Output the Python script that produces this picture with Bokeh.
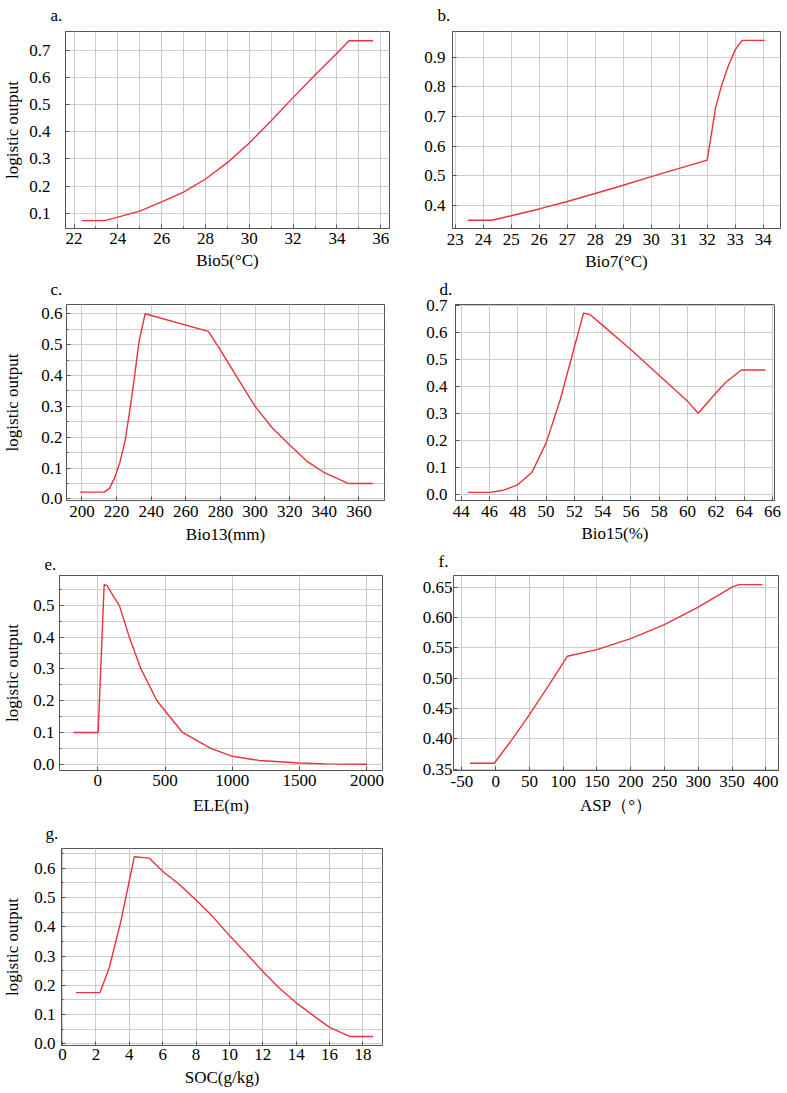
from bokeh.plotting import figure
from bokeh.layouts import column, row
from bokeh.models import Range1d, FixedTicker, PrintfTickFormatter
from bokeh.embed import file_html
from bokeh.resources import INLINE

# ---------------- data ----------------
bio5_x = [22.35, 23.4, 24, 25, 26, 27, 28, 29, 30, 31, 32, 33, 34, 34.55, 35.65]
bio5_y = [0.073, 0.073, 0.086, 0.108, 0.142, 0.178, 0.226, 0.286, 0.358, 0.44, 0.525, 0.608, 0.688, 0.734, 0.734]

bio7_x = [23.45, 24.3, 25, 26, 27, 28, 29, 30, 31, 32.0, 32.15, 32.3, 32.5, 32.75, 33.0, 33.25, 34.05]
bio7_y = [0.35, 0.35, 0.365, 0.388, 0.413, 0.44, 0.468, 0.497, 0.525, 0.553, 0.64, 0.73, 0.80, 0.87, 0.925, 0.957, 0.957]

bio13_x = [199, 213, 216, 219, 222, 225, 228, 230, 233, 236.5, 273, 280, 290, 300, 310, 320, 330, 340, 354, 368]
bio13_y = [0.022, 0.022, 0.035, 0.07, 0.12, 0.19, 0.30, 0.38, 0.51, 0.60, 0.543, 0.482, 0.391, 0.30, 0.23, 0.175, 0.122, 0.085, 0.05, 0.05]

bio15_x = [44.5, 46, 47, 48, 49, 50, 51, 52, 52.65, 53.1, 54, 56, 58, 60, 60.75, 62, 62.7, 63.8, 65.5]
bio15_y = [0.008, 0.008, 0.016, 0.036, 0.082, 0.19, 0.35, 0.545, 0.67, 0.665, 0.625, 0.535, 0.44, 0.345, 0.30, 0.375, 0.415, 0.46, 0.46]

ele_x = [-180, 3, 48, 70, 100, 160, 235, 321, 440, 630, 840, 1000, 1200, 1500, 1700, 2000]
ele_y = [0.1, 0.1, 0.565, 0.562, 0.54, 0.5, 0.4, 0.3, 0.2, 0.1, 0.05, 0.025, 0.012, 0.004, 0.001, 0.0]

asp_x = [-38, -2, 25, 50, 75, 100, 106, 150, 200, 250, 300, 350, 360, 395]
asp_y = [0.36, 0.36, 0.40, 0.44, 0.482, 0.525, 0.536, 0.547, 0.565, 0.588, 0.617, 0.650, 0.654, 0.654]

soc_x = [0.8, 2.25, 2.8, 3.5, 4.3, 5.2, 6, 7, 8, 9, 10, 11, 12, 13, 14, 15.3, 16, 17.2, 18.6]
soc_y = [0.175, 0.175, 0.26, 0.42, 0.64, 0.635, 0.59, 0.545, 0.492, 0.435, 0.37, 0.31, 0.247, 0.19, 0.14, 0.085, 0.056, 0.025, 0.025]

# tick labels
bio5_xticks = [22, 24, 26, 28, 30, 32, 34, 36]
bio5_yticks = [0.1, 0.2, 0.3, 0.4, 0.5, 0.6, 0.7]
bio7_xticks = [23, 24, 25, 26, 27, 28, 29, 30, 31, 32, 33, 34]
bio7_yticks = [0.4, 0.5, 0.6, 0.7, 0.8, 0.9]
bio13_xticks = [200, 220, 240, 260, 280, 300, 320, 340, 360]
bio13_yticks = [0.0, 0.1, 0.2, 0.3, 0.4, 0.5, 0.6]
bio15_xticks = [44, 46, 48, 50, 52, 54, 56, 58, 60, 62, 64, 66]
bio15_yticks = [0.0, 0.1, 0.2, 0.3, 0.4, 0.5, 0.6, 0.7]
ele_xticks = [0, 500, 1000, 1500, 2000]
ele_yticks = [0.0, 0.1, 0.2, 0.3, 0.4, 0.5]
asp_xticks = [-50, 0, 50, 100, 150, 200, 250, 300, 350, 400]
asp_yticks = [0.35, 0.40, 0.45, 0.50, 0.55, 0.60, 0.65]
soc_xticks = [0, 2, 4, 6, 8, 10, 12, 14, 16, 18]
soc_yticks = [0.0, 0.1, 0.2, 0.3, 0.4, 0.5, 0.6]

FONT = "Liberation Serif"
RED = "#e8333c"
GRID = "#cccccc"
FRAME = "#555555"


def half_steps(ticks, step):
    out = []
    v = ticks[0] - step
    while v <= ticks[-1] + step + 1e-9:
        out.append(round(v, 6))
        v += step
    return out


def make(xs, ys, xr, yr, xt, xminor, yt, yminor, xfmt, yfmt, title, xlabel, ylabel,
         width, height, mbl, mbr, mbt, mbb, ystand, ylabstand, xstand, xlabstand,
         tstand, toff):
    p = figure(width=width, height=height, output_backend="svg", toolbar_location=None,
               x_range=Range1d(*xr), y_range=Range1d(*yr),
               min_border_left=mbl, min_border_right=mbr,
               min_border_top=mbt, min_border_bottom=mbb)
    p.line(xs, ys, line_color=RED, line_width=1.4)
    p.xaxis.ticker = FixedTicker(ticks=xt, minor_ticks=xminor)
    p.yaxis.ticker = FixedTicker(ticks=yt, minor_ticks=yminor)
    p.xaxis.formatter = PrintfTickFormatter(format=xfmt)
    p.yaxis.formatter = PrintfTickFormatter(format=yfmt)
    for ax in (p.xaxis[0], p.yaxis[0]):
        ax.axis_line_color = FRAME
        ax.major_tick_line_color = FRAME
        ax.minor_tick_line_color = FRAME
        ax.major_tick_in = 4
        ax.major_tick_out = 0
        ax.minor_tick_in = 2
        ax.minor_tick_out = 0
        ax.major_label_text_font = FONT
        ax.major_label_text_font_size = "17px"
        ax.major_label_text_color = "black"
        ax.axis_label_text_font = FONT
        ax.axis_label_text_font_size = "17px"
        ax.axis_label_text_font_style = "normal"
        ax.axis_label_text_color = "black"
    p.xaxis.axis_label = xlabel
    p.xaxis.major_label_standoff = xstand
    p.xaxis.axis_label_standoff = xlabstand
    if ylabel:
        p.yaxis.axis_label = ylabel
        p.yaxis.axis_label_standoff = ylabstand
    p.yaxis.major_label_standoff = ystand
    p.xgrid.grid_line_color = GRID
    p.ygrid.grid_line_color = GRID
    p.xgrid.minor_grid_line_color = GRID
    p.ygrid.minor_grid_line_color = GRID
    p.outline_line_color = FRAME
    p.outline_line_width = 1
    p.title.text = title
    p.title.text_font = FONT
    p.title.text_font_size = "17px"
    p.title.text_font_style = "normal"
    p.title.text_color = "black"
    p.title.align = "left"
    p.title.vertical_align = "top"
    p.title.offset = toff
    p.title.standoff = tstand
    return p


pa = make(bio5_x, bio5_y, (21.61, 36.4), (0.044, 0.768),
          bio5_xticks, half_steps(bio5_xticks, 1), bio5_yticks, [],
          "%d", "%.1f", "a.", "Bio5(°C)", "logistic output",
          395, 275, 60, 6, 31, 46, 15, 4, 4, 4, 10, -15)
pb = make(bio7_x, bio7_y, (22.9, 34.62), (0.322, 0.987),
          bio7_xticks, [], bio7_yticks, [],
          "%d", "%.1f", "b.", "Bio7(°C)", None,
          392, 275, 57, 7, 30, 47, 7, 0, 5, 4, 9, -15)
pc = make(bio13_x, bio13_y, (191.1, 374.75), (-0.005, 0.63),
          bio13_xticks, [], bio13_yticks, half_steps(bio13_yticks, 0.05),
          "%d", "%.1f", "c.", "Bio13(mm)", "logistic output",
          395, 273, 61, 11, 27, 48, 4, 16, 5, 5, 7, -16)
pd_ = make(bio15_x, bio15_y, (43.6, 66.14), (-0.022, 0.702),
           bio15_xticks, [], bio15_yticks, [],
           "%d", "%.1f", "d.", "Bio15(%)", None,
           392, 273, 60, 13, 28, 48, 8, 0, 5, 4, 8, -16)
pe = make(ele_x, ele_y, (-284, 2116), (-0.0197, 0.594),
          ele_xticks, [], ele_yticks, half_steps(ele_yticks, 0.05),
          "%d", "%.1f", "e.", "ELE(m)", "logistic output",
          395, 272, 58, 13, 27, 49, 5, 8, 4, 7, 7, -15)
pf = make(asp_x, asp_y, (-62.4, 418.8), (0.348, 0.669),
          asp_xticks, [], asp_yticks, [],
          "%d", "%.2f", "f.", "ASP（°）", None,
          392, 272, 58, 9, 25, 50, 1, 0, 5, 6, 5, -15)
pg = make(soc_x, soc_y, (-0.06, 19.17), (-0.006, 0.668),
          soc_xticks, [], soc_yticks, half_steps(soc_yticks, 0.05),
          "%d", "%.1f", "g.", "SOC(g/kg)", "logistic output",
          395, 273, 59, 13, 27, 48, 6, 9, 3, 5, 7, -16)

layout = column(row(pa, pb), row(pc, pd_), row(pe, pf), row(pg))
open("out.html", "w").write(file_html(layout, INLINE))
